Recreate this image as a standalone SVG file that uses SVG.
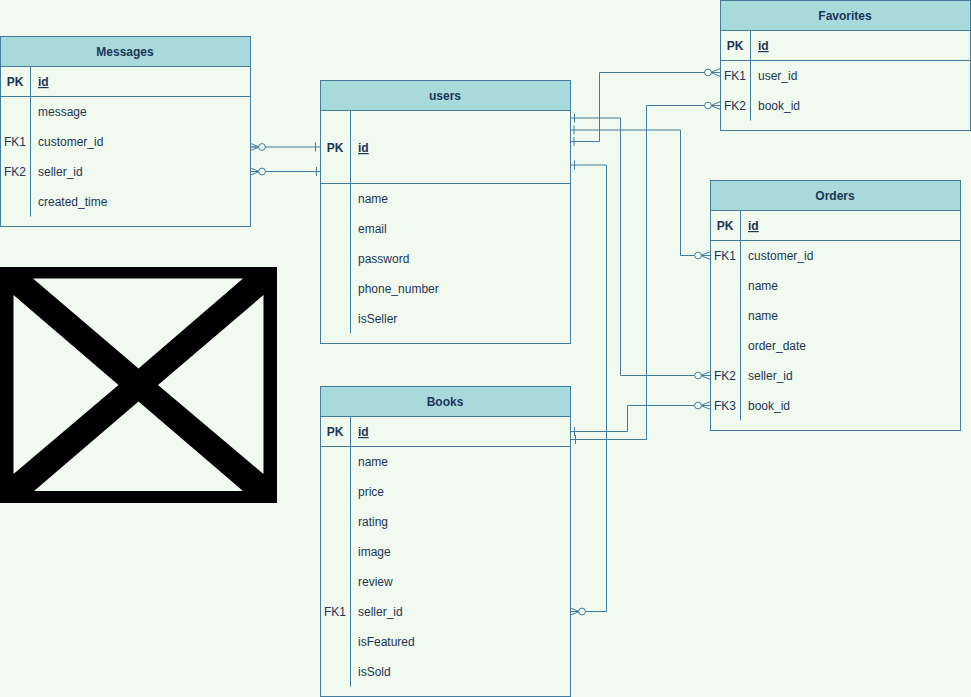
<svg xmlns="http://www.w3.org/2000/svg" width="971" height="697" viewBox="0 0 971 697">
<style>
text{font-family:"Liberation Sans",Arial,Helvetica,sans-serif;font-size:12px;fill:#1D3557}
.t{font-weight:bold;text-anchor:middle}
.pk{font-weight:bold;text-anchor:middle}
.fk{text-anchor:middle}
.idf{font-weight:bold;text-decoration:underline}
.box{fill:#F1FAEE;stroke:#457B9D}
.hd{fill:#A8DADC;stroke:#457B9D}
.ln{fill:none;stroke:#457B9D}
.c{fill:none;stroke:#457B9D}
</style>
<defs>
<marker id="one" markerUnits="userSpaceOnUse" markerWidth="12" markerHeight="14" refX="1" refY="7" orient="auto" overflow="visible">
<path d="M5.500 2.500V11.500" fill="none" stroke="#457B9D"/>
</marker>
<marker id="zeromany" markerUnits="userSpaceOnUse" markerWidth="20" markerHeight="12" refX="20" refY="6" orient="auto" overflow="visible">
<path d="M20 2.300L10.500 6L20 9.700M10.500 6H20" fill="none" stroke="#457B9D"/>
<circle cx="8" cy="6" r="3.400" fill="#F1FAEE" stroke="#457B9D"/>
</marker>
</defs>
<rect width="971" height="697" fill="#F1FAEE"/>

<g id="placeholder">
<path fill="#000" fill-rule="evenodd" d="M0 267H277V503H0ZM33 278.500H243L138.500 368.500ZM13.500 295V474L118.500 385ZM263.500 295V474L158 385ZM34 491H243L138.500 401.500Z"/>
</g>

<g id="connectors">
<path class="c" d="M320 147H250" marker-start="url(#one)" marker-end="url(#zeromany)"/>
<path class="c" d="M321 171.500H250" marker-start="url(#one)" marker-end="url(#zeromany)"/>
<path class="c" d="M570 118H620.500V375.500H710" marker-start="url(#one)" marker-end="url(#zeromany)"/>
<path class="c" d="M569.500 130H680.500V255.500H710" marker-start="url(#one)" marker-end="url(#zeromany)"/>
<path class="c" d="M569.500 141.500H599.500V72.500H720" marker-start="url(#one)" marker-end="url(#zeromany)"/>
<path class="c" d="M570 165H606.500V611.500H570" marker-start="url(#one)" marker-end="url(#zeromany)"/>
<path class="c" d="M570 431.500H627.500V405.500H710" marker-start="url(#one)" marker-end="url(#zeromany)"/>
<path class="c" d="M571 439.500H646.500V105.500H720" marker-start="url(#one)" marker-end="url(#zeromany)"/>
</g>

<g id="messages">
<rect class="box" x="0.500" y="36.500" width="250" height="190"/>
<rect class="hd" x="0.500" y="36.500" width="250" height="30"/>
<path class="ln" d="M0.500 96.500H250.500M30.500 66.500V216.500"/>
<text class="t" x="125" y="56">Messages</text>
<text class="pk" x="15" y="86">PK</text><text class="idf" x="38" y="86">id</text>
<text x="38" y="116">message</text>
<text class="fk" x="15" y="146">FK1</text><text x="38" y="146">customer_id</text>
<text class="fk" x="15" y="176">FK2</text><text x="38" y="176">seller_id</text>
<text x="38" y="206">created_time</text>
</g>

<g id="users">
<rect class="box" x="320.500" y="80.500" width="250" height="263"/>
<rect class="hd" x="320.500" y="80.500" width="250" height="30"/>
<path class="ln" d="M320.500 183.500H570.500M350.500 110.500V333.500"/>
<text class="t" x="445" y="100">users</text>
<text class="pk" x="335" y="152">PK</text><text class="idf" x="358" y="152">id</text>
<text x="358" y="203">name</text>
<text x="358" y="233">email</text>
<text x="358" y="263">password</text>
<text x="358" y="293">phone_number</text>
<text x="358" y="323">isSeller</text>
</g>

<g id="books">
<rect class="box" x="320.500" y="386.500" width="250" height="310"/>
<rect class="hd" x="320.500" y="386.500" width="250" height="30"/>
<path class="ln" d="M320.500 446.500H570.500M350.500 416.500V686.500"/>
<text class="t" x="445" y="406">Books</text>
<text class="pk" x="335" y="436">PK</text><text class="idf" x="358" y="436">id</text>
<text x="358" y="466">name</text>
<text x="358" y="496">price</text>
<text x="358" y="526">rating</text>
<text x="358" y="556">image</text>
<text x="358" y="586">review</text>
<text class="fk" x="335" y="616">FK1</text><text x="358" y="616">seller_id</text>
<text x="358" y="646">isFeatured</text>
<text x="358" y="676">isSold</text>
</g>

<g id="favorites">
<rect class="box" x="720.500" y="0.500" width="250" height="130"/>
<rect class="hd" x="720.500" y="0.500" width="250" height="30"/>
<path class="ln" d="M720.500 60.500H970.500M750.500 30.500V120.500"/>
<text class="t" x="845" y="20">Favorites</text>
<text class="pk" x="735" y="50">PK</text><text class="idf" x="758" y="50">id</text>
<text class="fk" x="735" y="80">FK1</text><text x="758" y="80">user_id</text>
<text class="fk" x="735" y="110">FK2</text><text x="758" y="110">book_id</text>
</g>

<g id="orders">
<rect class="box" x="710.500" y="180.500" width="250" height="250"/>
<rect class="hd" x="710.500" y="180.500" width="250" height="30"/>
<path class="ln" d="M710.500 240.500H960.500M740.500 210.500V420.500"/>
<text class="t" x="835" y="200">Orders</text>
<text class="pk" x="725" y="230">PK</text><text class="idf" x="748" y="230">id</text>
<text class="fk" x="725" y="260">FK1</text><text x="748" y="260">customer_id</text>
<text x="748" y="290">name</text>
<text x="748" y="320">name</text>
<text x="748" y="350">order_date</text>
<text class="fk" x="725" y="380">FK2</text><text x="748" y="380">seller_id</text>
<text class="fk" x="725" y="410">FK3</text><text x="748" y="410">book_id</text>
</g>
</svg>
